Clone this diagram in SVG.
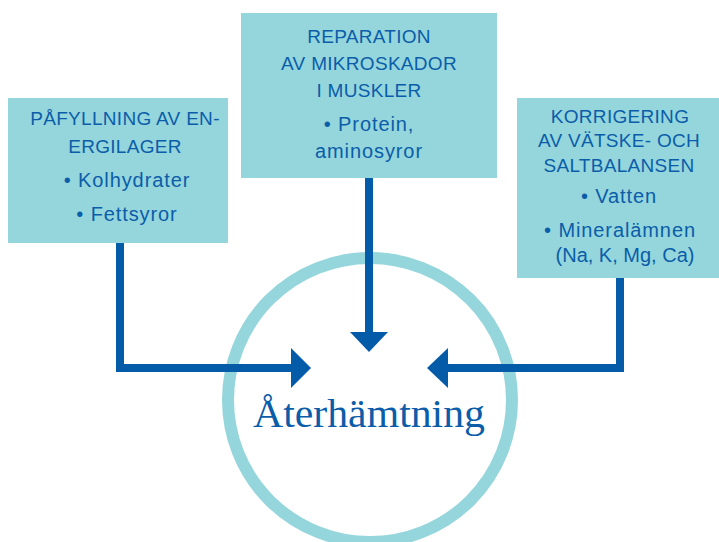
<svg xmlns="http://www.w3.org/2000/svg" width="719" height="542" viewBox="0 0 719 542">
<defs>
<style>
.box{fill:#94D6DC}
.t{font-family:"Liberation Sans",Arial,sans-serif;font-size:19px;letter-spacing:0.3px;fill:#0B5DA9;text-anchor:middle}
.b{font-size:20px;letter-spacing:0.9px}
.conn{fill:none;stroke:#045BA8;stroke-width:8;stroke-linejoin:miter;stroke-linecap:butt}
.head{fill:#045BA8}
</style>
</defs>
<rect width="719" height="542" fill="#fff"/>
<g id="center">
<circle cx="370" cy="400" r="142" fill="none" stroke="#94D6DC" stroke-width="12"/>
<text x="369" y="427" font-family="'Liberation Serif','Times New Roman',serif" font-size="39" fill="#0B5DA9" text-anchor="middle" textLength="232" lengthAdjust="spacingAndGlyphs">Återhämtning</text>
</g>
<g id="box-left">
<rect class="box" x="8" y="98" width="220" height="145"/>
<text class="t" x="125" y="125">PÅFYLLNING AV EN-</text>
<text class="t" x="125" y="153">ERGILAGER</text>
<text class="t b" x="127" y="187">• Kolhydrater</text>
<text class="t b" x="127" y="221">• Fettsyror</text>
</g>
<g id="box-middle">
<rect class="box" x="241" y="13" width="256" height="165"/>
<text class="t" x="369" y="43">REPARATION</text>
<text class="t" x="369" y="70">AV MIKROSKADOR</text>
<text class="t" x="369" y="97">I MUSKLER</text>
<text class="t b" x="369" y="131">• Protein,</text>
<text class="t b" x="369" y="158">aminosyror</text>
</g>
<g id="box-right">
<rect class="box" x="517" y="98" width="202" height="180"/>
<text class="t" x="620" y="123">KORRIGERING</text>
<text class="t" x="619" y="147">AV VÄTSKE- OCH</text>
<text class="t" x="619" y="172">SALTBALANSEN</text>
<text class="t b" x="619" y="203">• Vatten</text>
<text class="t b" x="620" y="237">• Mineralämnen</text>
<text class="t b" x="625" y="262" style="letter-spacing:0">(Na, K, Mg, Ca)</text>
</g>
<g id="connectors">
<path class="conn" d="M120 243 V368 H292"/>
<polygon class="head" points="291,348 311,368 291,388"/>
<path class="conn" d="M369 178 V333"/>
<polygon class="head" points="350,332 388,332 369,352"/>
<path class="conn" d="M620 278 V368 H447"/>
<polygon class="head" points="448,348 427,368 448,388"/>
</g>
</svg>
